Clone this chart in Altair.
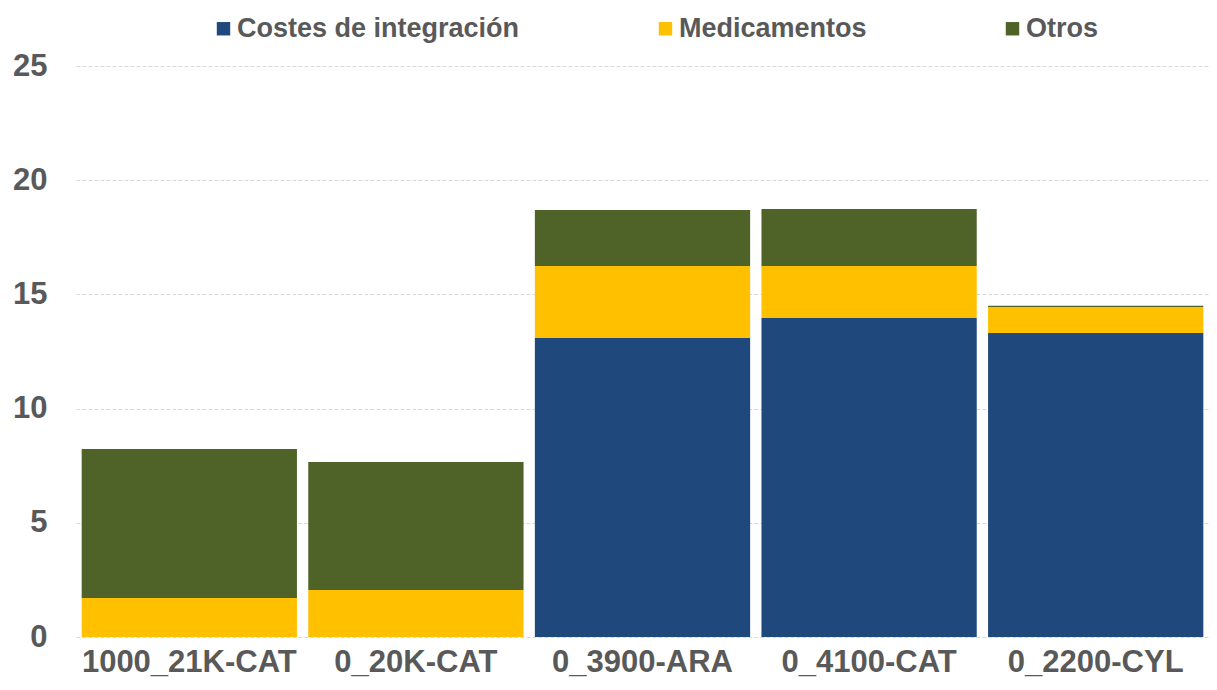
import altair as alt
import pandas as pd

categories = ["1000_21K-CAT", "0_20K-CAT", "0_3900-ARA", "0_4100-CAT", "0_2200-CYL"]
series = ["Costes de integración", "Medicamentos", "Otros"]
costes = [0.0, 0.0, 13.09, 13.97, 13.31]
medicamentos = [1.71, 2.06, 3.15, 2.27, 1.14]
otros = [6.52, 5.60, 2.46, 2.50, 0.05]
colors = ["#1F497D", "#FFC000", "#4F6228"]

rows = []
for i, c in enumerate(categories):
    for j, (s, vals) in enumerate(zip(series, [costes, medicamentos, otros])):
        rows.append({"cat": c, "serie": s, "valor": vals[i], "orden": j})
df = pd.DataFrame(rows)

FONT = "Liberation Sans"
GRAY = "#595959"

chart = alt.Chart(df).mark_bar().encode(
    x=alt.X("cat:N", sort=categories, title=None,
            scale=alt.Scale(paddingInner=0.05, paddingOuter=0.025),
            axis=alt.Axis(labelAngle=0, labelFont=FONT, labelFontSize=31,
                          labelFontWeight="bold", labelColor=GRAY,
                          labelPadding=10, labelLimit=0, ticks=False,
                          domain=False)),
    y=alt.Y("valor:Q", stack="zero", title=None,
            scale=alt.Scale(domain=[0, 25], nice=False),
            axis=alt.Axis(values=[0, 5, 10, 15, 20, 25], labelFont=FONT,
                          labelFontSize=31, labelFontWeight="bold",
                          labelColor=GRAY, labelPadding=29, ticks=False,
                          domain=False, gridColor="#D9D9D9",
                          gridDash=[4, 2], gridWidth=1)),
    color=alt.Color("serie:N", scale=alt.Scale(domain=series, range=colors),
                    legend=alt.Legend(title=None, orient="none",
                                      direction="horizontal",
                                      legendX=134, legendY=-51,
                                      symbolType="square", symbolSize=180,
                                      symbolStrokeWidth=0, labelLimit=0,
                                      labelFont=FONT, labelFontSize=27,
                                      labelFontWeight="bold", labelColor=GRAY,
                                      labelOffset=0, columnPadding=132)),
    order=alt.Order("orden:Q", sort="ascending"),
).properties(
    width=1133, height=571,
    autosize=alt.AutoSizeParams(type="none"),
    padding={"left": 68, "top": 58, "right": 0, "bottom": 43},
).configure_view(stroke=None)

chart.save("out.html", embed_options={"renderer": "svg", "actions": False})
